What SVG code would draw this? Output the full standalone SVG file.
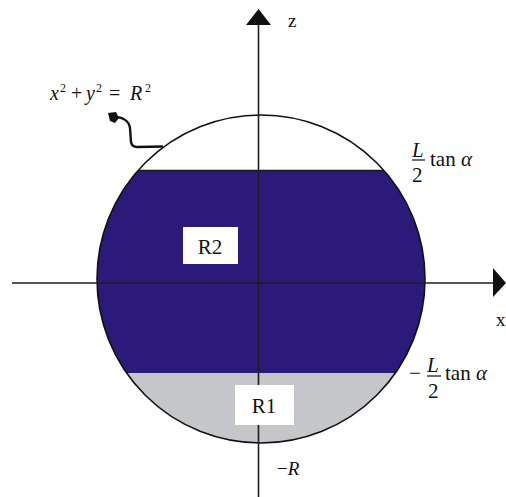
<svg xmlns="http://www.w3.org/2000/svg" width="506" height="497" viewBox="0 0 506 497">
<style>
.ax{stroke:#1e1e1e;stroke-width:1.6;fill:none}
.t{font-family:"Liberation Serif","DejaVu Serif",serif;fill:#111}
.i{font-style:italic}
.box{fill:#ffffff}
</style>
<defs>
<clipPath id="cc"><circle cx="261" cy="279" r="164"/></clipPath>
</defs>
<g id="circle-regions">
<circle cx="261" cy="279" r="164" fill="#ffffff"/>
<g clip-path="url(#cc)">
<rect id="band-R2" x="90" y="170" width="340" height="203" fill="#2b1a7a"/>
<rect id="band-R1" x="90" y="373" width="340" height="80" fill="#c5c6c9"/>
<line x1="90" y1="170.5" x2="430" y2="170.5" stroke="#1a1a1a" stroke-width="1.5"/>
</g>
<circle cx="261" cy="279" r="164" fill="none" stroke="#111" stroke-width="1.6"/>
</g>
<g id="connectors">
<line class="ax" x1="12" y1="283" x2="494" y2="283"/>
<polygon points="493,268 506,283 493,297" fill="#111"/>
<line class="ax" x1="258.5" y1="24" x2="258.5" y2="497"/>
<polygon points="258.5,9 271,25 246,25" fill="#111"/>
<path d="M114,117 C123,117 129,121 130,128 L131,142 Q132,147 137,147 L163,146.5" fill="none" stroke="#111" stroke-width="2.4"/>
<path d="M108,113 L116,112 L119,118 L115,123 L110,121 Z" fill="#111"/>
</g>
<g id="node-R2">
<rect class="box" x="183" y="227" width="55" height="37"/>
<text class="t" x="210" y="254" font-size="21" text-anchor="middle">R2</text>
</g>
<g id="node-R1">
<rect class="box" x="235" y="385" width="59" height="40"/>
<text class="t" x="264" y="413" font-size="21" text-anchor="middle">R1</text>
</g>
<g id="label-equation">
<text class="t" font-size="20" y="100"><tspan class="i" x="50">x</tspan><tspan x="60" dy="-8" font-size="12">2</tspan><tspan x="71" dy="8">+</tspan><tspan class="i" x="86">y</tspan><tspan x="96" dy="-8" font-size="12">2</tspan><tspan x="109" dy="8">=</tspan><tspan class="i" x="130">R</tspan><tspan x="145" dy="-8" font-size="12">2</tspan></text>
</g>
<g id="label-axes">
<text class="t" x="288" y="27" font-size="19">z</text>
<text class="t" x="496" y="326" font-size="19">x</text>
<text class="t" x="277" y="475" font-size="19"><tspan>−</tspan><tspan class="i">R</tspan></text>
</g>
<g id="label-top">
<text class="t i" x="412" y="157" font-size="21">L</text>
<line x1="412" y1="160" x2="425" y2="160" stroke="#111" stroke-width="1.2"/>
<text class="t" x="412" y="182" font-size="21">2</text>
<text class="t" x="430" y="166" font-size="21">tan <tspan class="i">α</tspan></text>
</g>
<g id="label-bottom">
<text class="t" x="409" y="380" font-size="21">−</text>
<text class="t i" x="427" y="372" font-size="21">L</text>
<line x1="427" y1="376" x2="441" y2="376" stroke="#111" stroke-width="1.2"/>
<text class="t" x="428" y="398" font-size="21">2</text>
<text class="t" x="445" y="380" font-size="21">tan <tspan class="i">α</tspan></text>
</g>
</svg>
